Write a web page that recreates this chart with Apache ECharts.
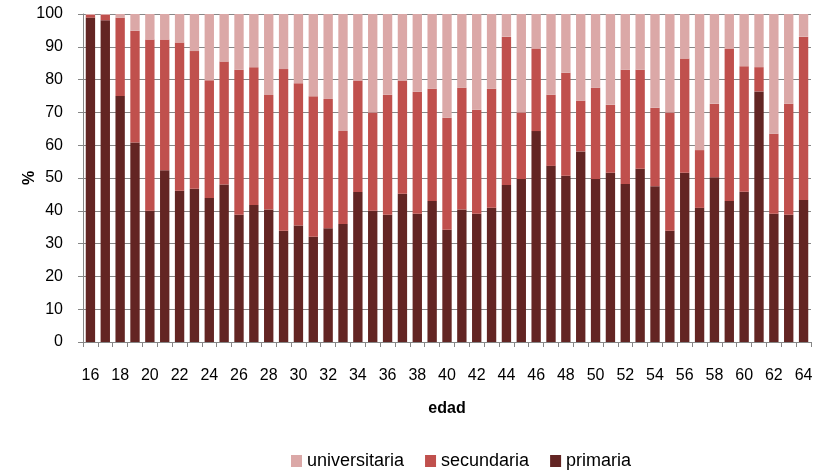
<!DOCTYPE html>
<html>
<head>
<meta charset="utf-8">
<script src="https://cdn.jsdelivr.net/npm/echarts@6/dist/echarts.min.js"></script>
<style>
  html, body { margin: 0; padding: 0; background: #fff; }
  #chart { width: 823px; height: 470px; }
</style>
</head>
<body>
<div id="chart"></div>
<script>
// Edades 16..64
const edades = ['16','17','18','19','20','21','22','23','24','25','26','27','28','29','30','31','32','33','34','35','36','37','38','39','40','41','42','43','44','45','46','47','48','49','50','51','52','53','54','55','56','57','58','59','60','61','62','63','64'];

// Porcentaje por nivel educativo
const primaria = [98.9,98.1,75.0,60.8,40.0,52.4,46.1,46.7,43.9,48.0,38.8,41.8,40.4,33.9,35.5,32.1,34.7,36.0,45.7,40.0,38.8,45.2,39.1,43.0,34.2,40.4,39.1,40.9,47.9,49.7,64.3,53.7,50.7,58.1,49.7,51.6,48.2,52.8,47.5,33.9,51.6,40.9,50.2,43.0,45.8,76.4,39.1,38.8,43.3];
const secundaria = [0.8,1.6,23.9,34.1,52.2,39.8,45.2,42.0,35.9,37.5,44.2,42.0,34.9,49.3,43.4,42.8,39.4,28.3,34.0,30.0,36.6,34.5,37.2,34.2,34.2,37.1,31.7,36.3,45.2,20.3,25.2,21.7,31.4,15.5,27.8,20.7,34.8,30.2,23.9,36.1,34.8,17.6,22.4,46.5,38.3,7.4,24.4,33.8,49.8];
const universitaria = [0.3,0.3,1.1,5.1,7.8,7.8,8.7,11.3,20.2,14.5,17.0,16.2,24.7,16.8,21.1,25.1,25.9,35.7,20.3,30.0,24.6,20.3,23.7,22.8,31.6,22.5,29.2,22.8,6.9,30.0,10.5,24.6,17.9,26.4,22.5,27.7,17.0,17.0,28.6,30.0,13.6,41.5,27.4,10.5,15.9,16.2,36.5,27.4,6.9];

const yTicks = { min: 0, max: 100, interval: 10 };

const fontFamily = 'Liberation Sans, Arial, sans-serif';
const gray = '#868686';

const chart = echarts.init(document.getElementById('chart'), null, { renderer: 'canvas' });

const barCommon = { type: 'bar', stack: 'total', barCategoryGap: '37%' };

chart.setOption({
  animation: false,
  textStyle: { fontFamily: fontFamily },
  grid: { left: 83, right: 12, top: 14, bottom: 128, containLabel: false },
  legend: {
    top: 447,
    left: 286,
    icon: 'rect',
    itemWidth: 11,
    itemHeight: 12,
    itemGap: 21,
    textStyle: { fontSize: 18, color: '#000', fontFamily: fontFamily },
    data: ['universitaria', 'secundaria', 'primaria']
  },
  xAxis: {
    type: 'category',
    data: edades,
    name: 'edad',
    nameLocation: 'middle',
    nameGap: 59,
    nameTextStyle: { fontSize: 16, fontWeight: 'bold', color: '#000' },
    axisLine: { lineStyle: { color: gray } },
    axisTick: { show: true, interval: 0, length: 5, lineStyle: { color: gray } },
    axisLabel: { interval: 1, margin: 26, fontSize: 16, color: '#000' }
  },
  yAxis: {
    type: 'value',
    min: yTicks.min,
    max: yTicks.max,
    interval: yTicks.interval,
    name: '%',
    nameLocation: 'middle',
    nameGap: 45,
    nameMoveOverlap: false,
    nameTextStyle: { fontSize: 16, fontWeight: 'bold', color: '#000' },
    axisLine: { show: true, lineStyle: { color: gray } },
    axisTick: { show: true, length: 5, lineStyle: { color: gray } },
    axisLabel: { margin: 20, fontSize: 16, color: '#000' },
    splitLine: { lineStyle: { color: gray, width: 1 } }
  },
  series: [
    Object.assign({ name: 'primaria', data: primaria, itemStyle: { color: '#632523' } }, barCommon),
    Object.assign({ name: 'secundaria', data: secundaria, itemStyle: { color: '#C0504D' } }, barCommon),
    Object.assign({ name: 'universitaria', data: universitaria, itemStyle: { color: '#DBA8A7' } }, barCommon)
  ]
});
</script>
</body>
</html>
